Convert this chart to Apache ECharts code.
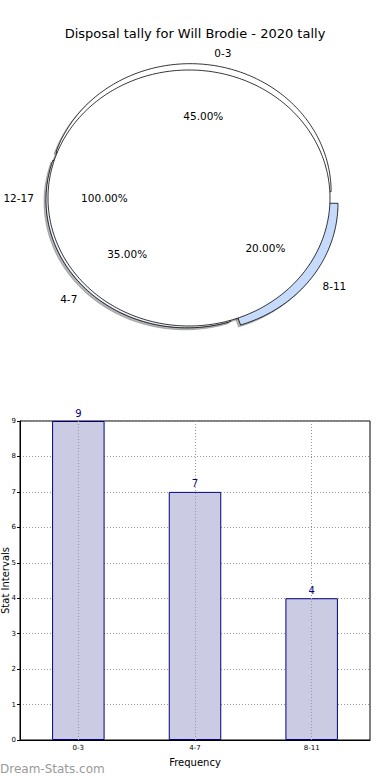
<!DOCTYPE html>
<html><head><meta charset="utf-8">
<script src="https://cdn.jsdelivr.net/npm/echarts@6/dist/echarts.min.js"></script>
<style>html,body{margin:0;padding:0;background:#fff}#c{width:390px;height:780px}</style>
</head><body><div id="c"></div>
<script>
// ---- data ----
const titleText = 'Disposal tally for Will Brodie - 2020 tally';
const pieLabels = ['0-3', '4-7', '8-11'];
const pieValues = [9, 7, 4];
const overlayLabels = ['12-17'];
const overlayValues = [1];
const barCategories = ['0-3', '4-7', '8-11'];
const barValues = [9, 7, 4];
const yAxisName = 'Stat Intervals';
const xAxisName = 'Frequency';
const watermark = 'Dream-Stats.com';

// ---- styles ----
const pieColors = ['#ffffff', '#eef3ff', '#c6dbfc'];
const pieExplode = [0.05, 0.02, 0.07];
const overlayColors = ['#ffffff'];
const FONT = 'DejaVu Sans';

function wedge(api, a0, a1, r, ox, oy, sx, sy) {
  const pts = [];
  const full = (a1 - a0) >= 359.999;
  if (!full) { const c = api.coord([ox, oy]); pts.push([c[0] + sx, c[1] + sy]); }
  const n = Math.max(4, Math.ceil((a1 - a0) / 1));
  for (let i = 0; i <= n; i++) {
    const t = (a0 + (a1 - a0) * i / n) * Math.PI / 180;
    const p = api.coord([ox + r * Math.cos(t), oy + r * Math.sin(t)]);
    pts.push([p[0] + sx, p[1] + sy]);
  }
  return pts;
}

function makePie(values, labels, colors, explode, mode) {
  const total = values.reduce((a, b) => a + b, 0);
  const starts = [];
  let acc = 0;
  values.forEach(v => { starts.push(acc / total * 360); acc += v; });
  return function (params, api) {
    const i = params.dataIndex;
    const v = api.value(1);
    const a0 = starts[i], a1 = a0 + v / total * 360;
    const mid = (a0 + a1) / 2 * Math.PI / 180;
    const e = explode ? explode[i] : 0;
    const ox = e * Math.cos(mid), oy = e * Math.sin(mid);
    if (mode === 'shadow') {
      return { type: 'polygon', shape: { points: wedge(api, a0, a1, 1, ox, oy, -2, 2) },
        style: { fill: 'rgba(90,90,90,0.45)', stroke: 'rgba(90,90,90,0.45)', lineWidth: 0.8 } };
    }
    if (mode === 'wedge') {
      return { type: 'polygon', shape: { points: wedge(api, a0, a1, 1, ox, oy, 0, 0) },
        style: { fill: colors[i], stroke: '#000', lineWidth: 0.8 } };
    }
    const lp = api.coord([ox + 1.1 * Math.cos(mid), oy + 1.1 * Math.sin(mid)]);
    const pp = api.coord([ox + 0.6 * Math.cos(mid), oy + 0.6 * Math.sin(mid)]);
    return { type: 'group', children: [
      { type: 'text', style: { text: labels[i], x: lp[0], y: lp[1], fill: '#000', font: '10.5px "' + FONT + '"',
        align: Math.cos(mid) > 0 ? 'left' : 'right', verticalAlign: 'middle' } },
      { type: 'text', style: { text: (v / total * 100).toFixed(2) + '%', x: pp[0], y: pp[1], fill: '#000',
        font: '10.5px "' + FONT + '"', align: 'center', verticalAlign: 'middle' } }
    ] };
  };
}

const chart = echarts.init(document.getElementById('c'), null, { renderer: 'svg' });
const pieData = pieValues.map((v, i) => [i, v]);
const ovData = overlayValues.map((v, i) => [i, v]);
const pc = { type: 'custom', coordinateSystem: 'cartesian2d', xAxisIndex: 1, yAxisIndex: 1, silent: true, animation: false, clip: false };

chart.setOption({
  animation: false,
  title: { text: titleText, left: 'center', top: 22, textStyle: { fontFamily: FONT, fontSize: 13, fontWeight: 'normal', color: '#000' } },
  grid: [
    { left: 20, right: 20, top: 421, bottom: 40, show: true, borderColor: '#000', borderWidth: 1, backgroundColor: 'transparent', containLabel: false, outerBoundsMode: 'none' },
    { left: 48, right: 60, top: 70, bottom: 454, show: false, containLabel: false, outerBoundsMode: 'none' }
  ],
  xAxis: [
    { gridIndex: 0, type: 'category', data: barCategories, name: xAxisName, nameLocation: 'middle', nameGap: 17,
      nameTextStyle: { fontFamily: FONT, fontSize: 10, color: '#000' },
      axisLine: { lineStyle: { color: '#000' } }, axisTick: { show: false },
      axisLabel: { fontFamily: FONT, fontSize: 7, color: '#000', margin: 4 }, splitLine: { show: false } },
    { gridIndex: 1, type: 'value', min: -1, max: 1, show: false }
  ],
  yAxis: [
    { gridIndex: 0, type: 'value', min: 0, max: 9, interval: 1, name: yAxisName, nameLocation: 'middle', nameGap: 10,
      nameMoveOverlap: false,
      nameTextStyle: { fontFamily: FONT, fontSize: 10, color: '#000' },
      axisLine: { show: true, lineStyle: { color: '#000' } }, axisTick: { show: true, length: 3, lineStyle: { color: '#000' } },
      axisLabel: { fontFamily: FONT, fontSize: 7, color: '#000', margin: 4 },
      splitLine: { show: true, lineStyle: { type: [1, 2], color: '#999' } } },
    { gridIndex: 1, type: 'value', min: -1, max: 1, show: false }
  ],
  graphic: [
    { type: 'text', left: 0, top: 763, style: { text: watermark, fill: '#9a9a9a', font: '12px "' + FONT + '"' } }
  ],
  series: [
    Object.assign({}, pc, { z: 1, data: ovData, renderItem: makePie(overlayValues, overlayLabels, overlayColors, null, 'shadow') }),
    Object.assign({}, pc, { z: 1, data: pieData, renderItem: makePie(pieValues, pieLabels, pieColors, pieExplode, 'shadow') }),
    Object.assign({}, pc, { z: 2, data: pieData, renderItem: makePie(pieValues, pieLabels, pieColors, pieExplode, 'wedge') }),
    Object.assign({}, pc, { z: 3, data: ovData, renderItem: makePie(overlayValues, overlayLabels, overlayColors, null, 'wedge') }),
    Object.assign({}, pc, { z: 4, data: pieData, renderItem: makePie(pieValues, pieLabels, pieColors, pieExplode, 'label') }),
    Object.assign({}, pc, { z: 4, data: ovData, renderItem: makePie(overlayValues, overlayLabels, overlayColors, null, 'label') }),
    {
      type: 'bar', xAxisIndex: 0, yAxisIndex: 0, data: barValues, barWidth: '45%',
      itemStyle: { color: '#cbcbe3', borderColor: '#000080', borderWidth: 1 },
      label: { show: true, position: 'top', distance: 3, color: '#000080', fontFamily: FONT, fontSize: 10 },
      markLine: { silent: true, symbol: 'none', label: { show: false },
        lineStyle: { type: [1, 2], color: '#999', width: 1 },
        data: barCategories.map(c => ({ xAxis: c })) }
    }
  ]
});
</script></body></html>
